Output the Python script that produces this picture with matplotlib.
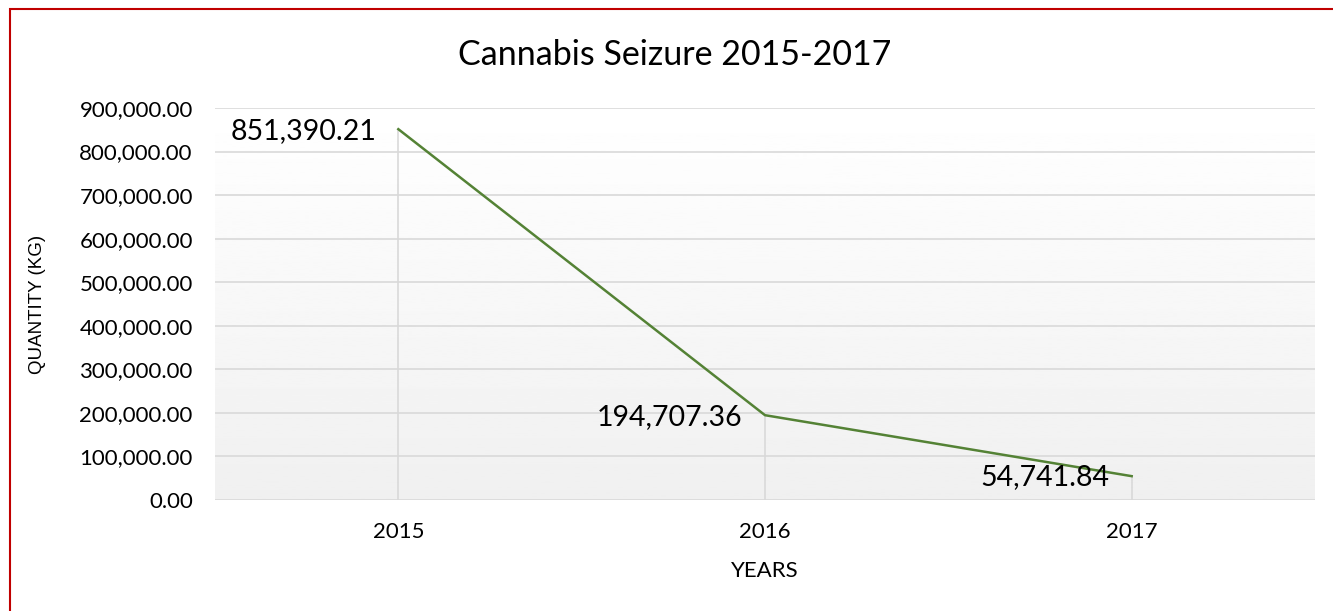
import matplotlib.pyplot as plt
import numpy as np
from matplotlib.patches import Rectangle

years = ['2015', '2016', '2017']
quantity = [851390.21, 194707.36, 54741.84]
y_ticks = [0, 100000, 200000, 300000, 400000, 500000, 600000, 700000, 800000, 900000]

plt.rcParams['font.family'] = ['Lato', 'DejaVu Sans']

fig = plt.figure(figsize=(13.33, 6.11), dpi=100)
ax = fig.add_axes([215 / 1333, 1 - 500 / 611, 1100 / 1333, 392 / 611])

x = np.arange(len(years))
ax.set_xlim(-0.5, len(years) - 0.5)
ax.set_ylim(0, 900000)

# gradient background, white at top to light gray at bottom
grad = np.linspace(1.0, 0.94, 256).reshape(-1, 1)
ax.imshow(grad, cmap='gray', vmin=0, vmax=1, aspect='auto',
          extent=(-0.5, len(years) - 0.5, 0, 900000), origin='upper', zorder=0)

for t in y_ticks:
    ax.axhline(t, color='#d9d9d9', lw=1.2, zorder=1)

# drop lines
ax.vlines(x, 0, quantity, color='#d9d9d9', lw=1.2, zorder=1)

ax.plot(x, quantity, color='#548235', lw=1.8, zorder=3)

for xi, v in zip(x, quantity):
    ax.annotate(f'{v:,.2f}', (xi, v), xytext=(-16, -1), textcoords='offset points',
                ha='right', va='center', fontsize=20.5, color='#000000', zorder=4)

ax.set_yticks(y_ticks)
ax.set_yticklabels([f'{t:,.2f}' for t in y_ticks], fontsize=16)
ax.set_xticks(x)
ax.set_xticklabels(years, fontsize=16)
ax.tick_params(length=0)
ax.tick_params(axis='x', pad=16)
ax.tick_params(axis='y', pad=16)
for s in ax.spines.values():
    s.set_visible(False)

ax.set_xlabel('YEARS', fontsize=16)
ax.xaxis.set_label_coords(0.5, (500 - 561) / 392)
ax.set_ylabel('QUANTITY (KG)', fontsize=13.5, family=['Liberation Sans', 'DejaVu Sans'])
ax.yaxis.set_label_coords((46 - 215) / 1100, 0.5)
fig.text(675 / 1333, 1 - 55 / 611, 'Cannabis Seizure 2015-2017', fontsize=24.5,
         ha='center', va='center')

# red frame around the chart (right and bottom edges run off the image)
fig.patches.append(Rectangle((10 / 1333, -0.1), 1.2, 1 - 9 / 611 + 0.1,
                             transform=fig.transFigure, fill=False,
                             edgecolor='#c00000', lw=1.5))

fig.savefig('out.png', dpi=100)
